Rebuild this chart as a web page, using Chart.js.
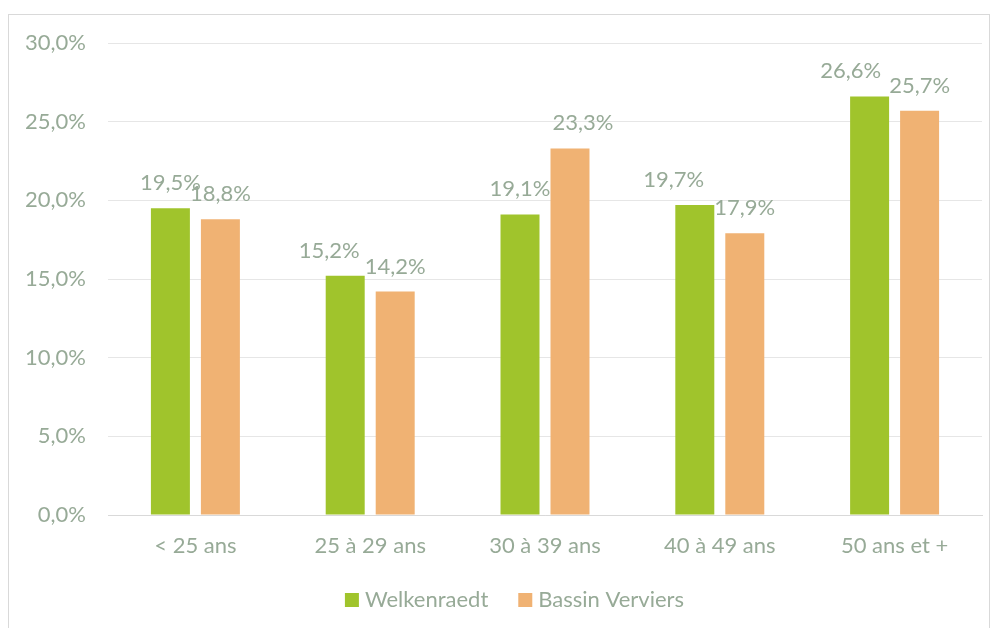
<!DOCTYPE html>
<html>
<head>
<meta charset="utf-8">
<script src="https://cdn.jsdelivr.net/npm/chart.js@4/dist/chart.umd.min.js"></script>
<style>
html,body{margin:0;padding:0;background:#fff;}
#wrap{position:absolute;left:0;top:0;width:995px;height:628px;}
</style>
</head>
<body>
<div id="wrap"><canvas id="c" width="995" height="628"></canvas></div>
<script>
const categories = ["< 25 ans", "25 à 29 ans", "30 à 39 ans", "40 à 49 ans", "50 ans et +"];
const welkenraedt = [19.5, 15.2, 19.1, 19.7, 26.6];
const bassinVerviers = [18.8, 14.2, 23.3, 17.9, 25.7];
const seriesNames = ["Welkenraedt", "Bassin Verviers"];

// style only: horizontal nudges of value labels (px), as in the original layout
const labelNudge = [[0, -16, 0, -21, -19], [0, 0, 13, 0, 0]];

const TXT = "#97aa97";
const FONT = "Lato, 'Liberation Sans', sans-serif";
const FS = 22;
const COLORS = ["#a0c42c", "#f0b273"];
const fmt = v => v.toFixed(1).replace(".", ",") + "%";

const frame = {
  id: "frame",
  beforeDraw(chart) {
    const ctx = chart.ctx;
    ctx.save();
    ctx.fillStyle = "#fff";
    ctx.fillRect(0, 0, chart.width, chart.height);
    ctx.strokeStyle = "#d9d9d9";
    ctx.lineWidth = 1;
    ctx.strokeRect(8.5, 14.5, 981, 620);
    ctx.restore();
  }
};

const labelsPlugin = {
  id: "vals",
  afterDatasetsDraw(chart) {
    const ctx = chart.ctx;
    ctx.save();
    ctx.font = FS + "px " + FONT;
    ctx.fillStyle = TXT;
    ctx.textAlign = "center";
    ctx.textBaseline = "alphabetic";
    chart.data.datasets.forEach((ds, i) => {
      chart.getDatasetMeta(i).data.forEach((bar, j) => {
        ctx.fillText(fmt(ds.data[j]), bar.x + labelNudge[i][j], bar.y - 18);
      });
    });
    ctx.restore();
  }
};

const legendPlugin = {
  id: "customLegend",
  afterDraw(chart) {
    const ctx = chart.ctx;
    ctx.save();
    ctx.font = FS + "px " + FONT;
    const box = 14, gap = 6, itemGap = 30;
    const widths = chart.data.datasets.map(d => ctx.measureText(d.label).width);
    const total = widths.reduce((a, w) => a + box + gap + w, 0) + itemGap * (widths.length - 1);
    let x = chart.width / 2 + 17 - total / 2;
    const cy = 600;
    ctx.textBaseline = "middle";
    ctx.textAlign = "left";
    chart.data.datasets.forEach((d, i) => {
      ctx.fillStyle = d.backgroundColor;
      ctx.fillRect(x, cy - box / 2, box, box);
      ctx.fillStyle = TXT;
      ctx.fillText(d.label, x + box + gap, cy);
      x += box + gap + widths[i] + itemGap;
    });
    ctx.restore();
  }
};

new Chart(document.getElementById("c"), {
  type: "bar",
  data: {
    labels: categories,
    datasets: [
      { label: seriesNames[0], data: welkenraedt, backgroundColor: COLORS[0] },
      { label: seriesNames[1], data: bassinVerviers, backgroundColor: COLORS[1] }
    ]
  },
  options: {
    responsive: false,
    animation: false,
    devicePixelRatio: 1,
    layout: { padding: { left: 10, right: 13, top: 43, bottom: 0 } },
    datasets: { bar: { categoryPercentage: 0.572, barPercentage: 0.78 } },
    plugins: {
      tooltip: { enabled: false },
      legend: { display: false }
    },
    scales: {
      x: {
        grid: { display: false },
        border: { display: true, color: "#d9d9d9" },
        ticks: { color: TXT, font: { family: FONT, size: FS }, padding: 10 },
        afterFit(s) { s.height = 113; }
      },
      y: {
        min: 0, max: 30,
        ticks: { stepSize: 5, color: TXT, font: { family: FONT, size: FS }, padding: 22,
                 callback: v => fmt(v) },
        grid: { color: "#e6e6e6", drawTicks: false },
        border: { display: false },
        afterFit(s) { s.width = 98; }
      }
    }
  },
  plugins: [frame, labelsPlugin, legendPlugin]
});
</script>
</body>
</html>
